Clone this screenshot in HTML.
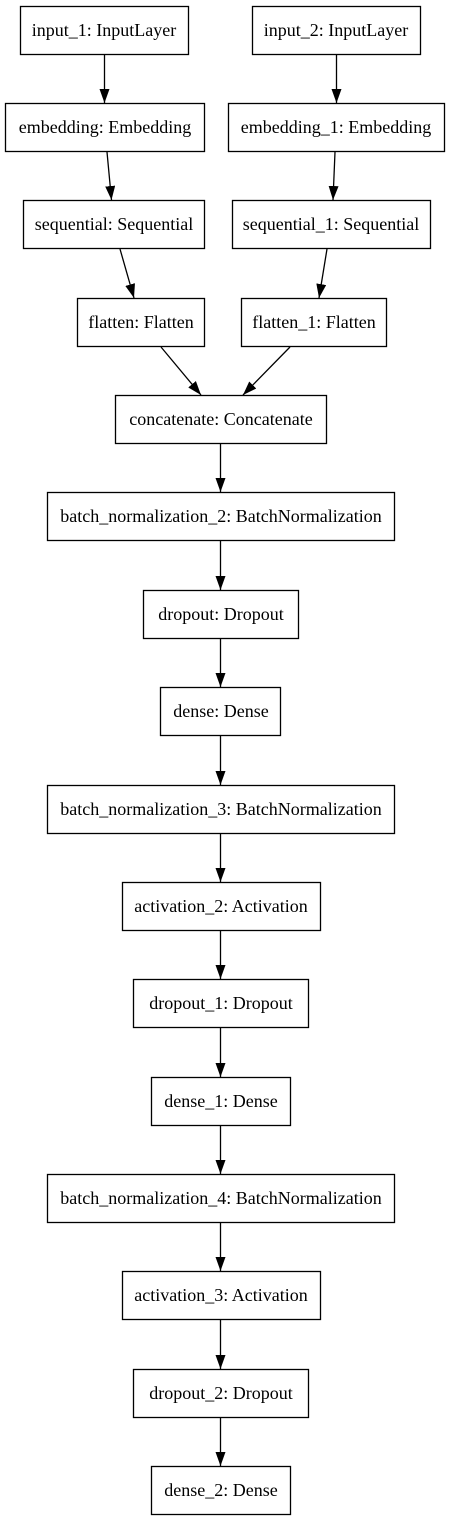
<!DOCTYPE html>
<html><head><meta charset="utf-8"><style>
html,body{margin:0;padding:0;background:#fff;}
svg{display:block;}
text{font-family:"Liberation Serif",serif;font-size:18px;fill:#000;}
rect{fill:#fff;stroke:#000;stroke-width:1.3;}
line{stroke:#000;stroke-width:1.3;}
</style></head><body>
<svg width="451" height="1520" viewBox="0 0 451 1520" xmlns="http://www.w3.org/2000/svg">
<defs><marker id="a" markerWidth="14" markerHeight="10" refX="14" refY="5" orient="auto" markerUnits="userSpaceOnUse" viewBox="0 0 14 10"><path d="M0,0 L14,5 L0,10 z" fill="#000"/></marker></defs>
<g text-anchor="middle">
<rect x="20.5" y="6.5" width="168" height="48"/><text x="104" y="36">input_1: InputLayer</text>
<rect x="252.5" y="6.5" width="168" height="48"/><text x="336" y="36">input_2: InputLayer</text>
<rect x="5.5" y="103.5" width="199" height="48"/><text x="105" y="133">embedding: Embedding</text>
<rect x="228.5" y="103.5" width="216" height="48"/><text x="336" y="133">embedding_1: Embedding</text>
<rect x="23.5" y="200.5" width="181" height="48"/><text x="114" y="230">sequential: Sequential</text>
<rect x="232.5" y="200.5" width="198" height="48"/><text x="331" y="230">sequential_1: Sequential</text>
<rect x="77.5" y="298.5" width="127" height="48"/><text x="141" y="328">flatten: Flatten</text>
<rect x="241.5" y="298.5" width="145" height="48"/><text x="314" y="328">flatten_1: Flatten</text>
<rect x="115.5" y="395.5" width="211" height="48"/><text x="221" y="425">concatenate: Concatenate</text>
<rect x="47.5" y="492.5" width="347" height="48"/><text x="221" y="522">batch_normalization_2: BatchNormalization</text>
<rect x="143.5" y="590.5" width="155" height="48"/><text x="221" y="620">dropout: Dropout</text>
<rect x="160.5" y="687.5" width="120" height="48"/><text x="221" y="717">dense: Dense</text>
<rect x="47.5" y="785.5" width="347" height="48"/><text x="221" y="815">batch_normalization_3: BatchNormalization</text>
<rect x="122.5" y="882.5" width="198" height="48"/><text x="221" y="912">activation_2: Activation</text>
<rect x="133.5" y="979.5" width="175" height="48"/><text x="221" y="1009">dropout_1: Dropout</text>
<rect x="151.5" y="1077.5" width="139" height="48"/><text x="221" y="1107">dense_1: Dense</text>
<rect x="47.5" y="1174.5" width="347" height="48"/><text x="221" y="1204">batch_normalization_4: BatchNormalization</text>
<rect x="122.5" y="1271.5" width="198" height="48"/><text x="221" y="1301">activation_3: Activation</text>
<rect x="133.5" y="1369.5" width="175" height="48"/><text x="221" y="1399">dropout_2: Dropout</text>
<rect x="151.5" y="1466.5" width="139" height="48"/><text x="221" y="1496">dense_2: Dense</text>
</g>
<g>
<line x1="104.5" y1="55" x2="104.5" y2="103" marker-end="url(#a)"/>
<line x1="336.5" y1="55" x2="336.5" y2="103" marker-end="url(#a)"/>
<line x1="107" y1="152" x2="111.5" y2="200" marker-end="url(#a)"/>
<line x1="335" y1="152" x2="333" y2="200" marker-end="url(#a)"/>
<line x1="120" y1="249" x2="134" y2="298" marker-end="url(#a)"/>
<line x1="327" y1="249" x2="319" y2="298" marker-end="url(#a)"/>
<line x1="161" y1="347" x2="201" y2="395" marker-end="url(#a)"/>
<line x1="290" y1="347" x2="243" y2="395" marker-end="url(#a)"/>
<line x1="220.5" y1="444" x2="220.5" y2="492" marker-end="url(#a)"/>
<line x1="220.5" y1="541" x2="220.5" y2="590" marker-end="url(#a)"/>
<line x1="220.5" y1="639" x2="220.5" y2="687" marker-end="url(#a)"/>
<line x1="220.5" y1="736" x2="220.5" y2="785" marker-end="url(#a)"/>
<line x1="220.5" y1="834" x2="220.5" y2="882" marker-end="url(#a)"/>
<line x1="220.5" y1="931" x2="220.5" y2="979" marker-end="url(#a)"/>
<line x1="220.5" y1="1028" x2="220.5" y2="1077" marker-end="url(#a)"/>
<line x1="220.5" y1="1126" x2="220.5" y2="1174" marker-end="url(#a)"/>
<line x1="220.5" y1="1223" x2="220.5" y2="1271" marker-end="url(#a)"/>
<line x1="220.5" y1="1320" x2="220.5" y2="1369" marker-end="url(#a)"/>
<line x1="220.5" y1="1418" x2="220.5" y2="1466" marker-end="url(#a)"/>
</g>
</svg>
</body></html>
